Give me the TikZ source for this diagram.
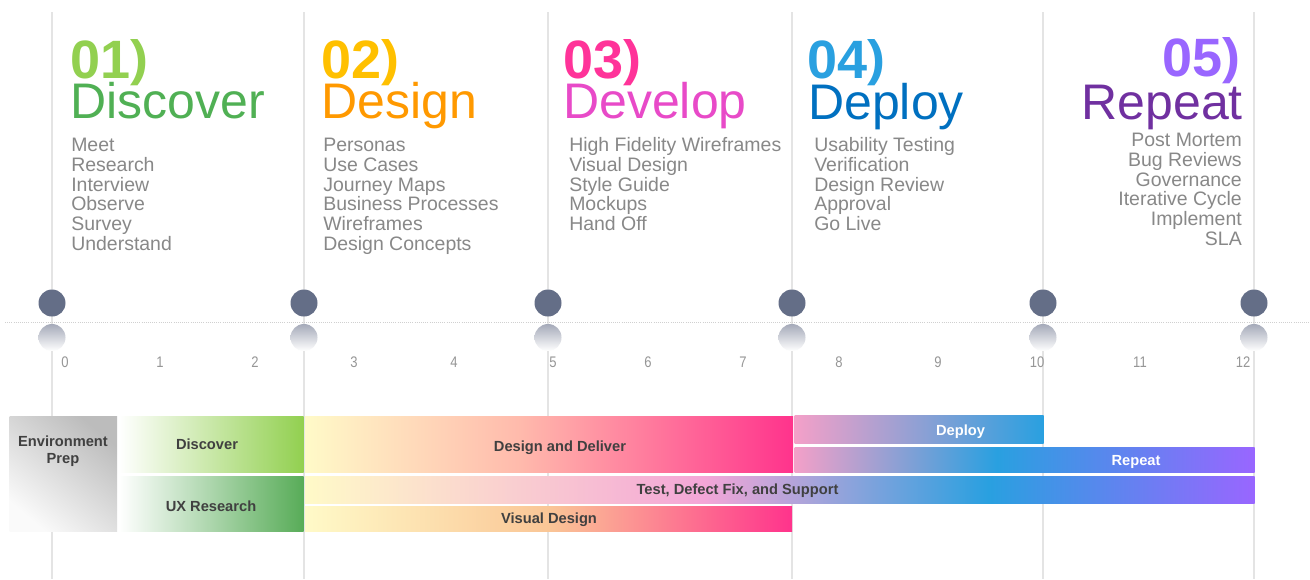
\documentclass[tikz,border=0pt]{standalone}
\usepackage{fontspec}
\setmainfont{Liberation Sans}
\newfontfamily\condfont[FakeStretch=0.85]{Liberation Sans}
\newcommand{\hparen}{\raisebox{2.25pt}{\scalebox{1}[0.92]{)}}}
% header colours
\definecolor{nA}{RGB}{146,208,80}\definecolor{wA}{RGB}{80,176,84}
\definecolor{nB}{RGB}{255,192,0}\definecolor{wB}{RGB}{255,153,0}
\definecolor{nC}{RGB}{255,51,153}\definecolor{wC}{RGB}{232,74,200}
\definecolor{nD}{RGB}{41,160,224}\definecolor{wD}{RGB}{0,112,192}
\definecolor{nE}{RGB}{153,102,255}\definecolor{wE}{RGB}{112,48,160}
\definecolor{itemc}{RGB}{136,136,136}
\definecolor{lineg}{RGB}{228,228,228}
\definecolor{dotc}{RGB}{100,110,135}
\definecolor{reflc}{RGB}{165,170,185}
\definecolor{tickc}{RGB}{150,150,150}
\definecolor{bart}{RGB}{64,64,64}
% bar colours
\definecolor{pyel}{RGB}{255,250,200}
\definecolor{salm}{RGB}{255,186,172}
\definecolor{hpink}{RGB}{255,51,140}
\definecolor{lpink}{RGB}{244,160,200}
\definecolor{tpink}{RGB}{244,166,215}
\definecolor{bblue}{RGB}{41,160,224}
\definecolor{bpurp}{RGB}{153,102,255}
\definecolor{peach}{RGB}{250,198,150}
\definecolor{grnA}{RGB}{146,208,80}
\definecolor{grnB}{RGB}{88,172,88}
\definecolor{envd}{RGB}{188,188,188}
\definecolor{envl}{RGB}{250,250,250}
\pgfdeclarehorizontalshading{shDisc}{100bp}{color(0bp)=(white); color(25bp)=(white); color(75bp)=(grnA); color(100bp)=(grnA)}
\pgfdeclarehorizontalshading{shUX}{100bp}{color(0bp)=(white); color(25bp)=(white); color(75bp)=(grnB); color(100bp)=(grnB)}
\pgfdeclarehorizontalshading{shDD}{100bp}{color(0bp)=(pyel); color(25bp)=(pyel); color(47bp)=(salm); color(75bp)=(hpink); color(100bp)=(hpink)}
\pgfdeclarehorizontalshading{shDep}{100bp}{color(0bp)=(lpink); color(25bp)=(lpink); color(75bp)=(bblue); color(100bp)=(bblue)}
\pgfdeclarehorizontalshading{shRep}{100bp}{color(0bp)=(lpink); color(25bp)=(lpink); color(47bp)=(bblue); color(75bp)=(bpurp); color(100bp)=(bpurp)}
\pgfdeclarehorizontalshading{shTest}{100bp}{color(0bp)=(pyel); color(25bp)=(pyel); color(46bp)=(tpink); color(61bp)=(bblue); color(75bp)=(bpurp); color(100bp)=(bpurp)}
\pgfdeclarehorizontalshading{shVis}{100bp}{color(0bp)=(pyel); color(25bp)=(pyel); color(50bp)=(peach); color(75bp)=(hpink); color(100bp)=(hpink)}
\begin{document}
\begin{tikzpicture}[x=0.75pt,y=-0.75pt,
  vline/.style={draw=lineg,line width=0.8pt},
  dot/.style={circle,fill=dotc,minimum size=20.25pt,inner sep=0},
  refl/.style={circle,top color=reflc,bottom color=white,minimum size=20.25pt,inner sep=0},
  tick/.style={text=tickc,font=\condfont\fontsize{11.5}{12}\selectfont,inner sep=0,anchor=base},
  num/.style={font=\fontsize{40.5}{41}\selectfont\bfseries,inner sep=0},
  word/.style={font=\fontsize{37.5}{38}\selectfont,inner sep=0},
  item/.style={text=itemc,font=\fontsize{14.6}{15}\selectfont,inner sep=0},
  bartext/.style={font=\fontsize{11}{12.8}\selectfont\bfseries,text=bart,inner sep=0,align=center},
  wbartext/.style={font=\fontsize{11}{12.8}\selectfont\bfseries,text=white,inner sep=0},
]
\useasboundingbox[fill=white] (0,0) rectangle (1310,579);
% vertical lines
\foreach \x [count=\i] in {52,304,548,792,1043,1254}
  \draw[vline] (\x,12) -- (\x,579);
% dotted axis
\draw[draw=lineg!80!gray,densely dotted,line width=0.6pt] (5,322) -- (1310,322);
% milestones
\foreach \x [count=\i] in {52,304,548,792,1043,1254}{
  \node[dot] (m\i) at (\x,303) {};
  \node[refl] (r\i) at (\x,337.5) {};
}
% ticks
\foreach \x [count=\i from 0] in {65,160,255,354,454,553,648,743,839,938,1037,1140,1243}
  \node[tick] (t\i) at (\x,367) {\i};
% headers
\node[num,text=nA,anchor=base west] (h1) at (70,78) {01\hparen};
\node[word,text=wA,anchor=base west] (w1) at (70,118.5) {Discover};
\node[num,text=nB,anchor=base west] (h2) at (321,78) {02\hparen};
\node[word,text=wB,anchor=base west] (w2) at (321,118.5) {Design};
\node[num,text=nC,anchor=base west] (h3) at (563,78) {03\hparen};
\node[word,text=wC,anchor=base west] (w3) at (563,118.5) {Develop};
\node[num,text=nD,anchor=base west] (h4) at (807,78) {04\hparen};
\node[word,text=wD,anchor=base west] (w4) at (808,119.5) {Deploy};
\node[num,text=nE,anchor=base east] (h5) at (1241,76) {05\hparen};
\node[word,text=wE,anchor=base east] (w5) at (1243,119.5) {Repeat};
% item lists
\foreach \t [count=\i from 0] in {Meet,Research,Interview,Observe,Survey,Understand}
  \node[item,anchor=base west] (a\i) at (71,151.7+19.66*\i) {\t};
\foreach \t [count=\i from 0] in {Personas,Use Cases,Journey Maps,Business Processes,Wireframes,Design Concepts}
  \node[item,anchor=base west] (b\i) at (323,151.7+19.66*\i) {\t};
\foreach \t [count=\i from 0] in {High Fidelity Wireframes,Visual Design,Style Guide,Mockups,Hand Off}
  \node[item,anchor=base west] (c\i) at (569,151.7+19.66*\i) {\t};
\foreach \t [count=\i from 0] in {Usability Testing,Verification,Design Review,Approval,Go Live}
  \node[item,anchor=base west] (d\i) at (814,151.7+19.66*\i) {\t};
\foreach \t [count=\i from 0] in {Post Mortem,Bug Reviews,Governance,Iterative Cycle,Implement,SLA}
  \node[item,anchor=base east] (e\i) at (1242,146.5+19.75*\i) {\t};
% bars
\shade[top color=envd,bottom color=envl,shading angle=-40] (9.5,416.5) rectangle (117,531.5);
\shade[shading=shDisc] (119,416.5) rectangle (303.5,472.5);
\shade[shading=shUX] (119,476) rectangle (303.5,531.5);
\shade[shading=shDD] (305,416.5) rectangle (793,472.5);
\shade[shading=shDep] (794.5,415.5) rectangle (1043.5,443.5);
\shade[shading=shRep] (794.5,447.5) rectangle (1254.5,472.5);
\shade[shading=shTest] (305,476) rectangle (1254.5,503.5);
\shade[shading=shVis] (305,506) rectangle (792,531.5);
% bar labels
\node[bartext] (lEnv) at (63,451.5) {Environment\\Prep};
\node[bartext] (lDisc) at (207,444) {Discover};
\node[bartext] (lUX) at (211,506) {UX Research};
\node[bartext] (lDD) at (560,447.5) {Design and Deliver};
\node[wbartext] (lDep) at (960.5,431.5) {Deploy};
\node[wbartext] (lRep) at (1136,462) {Repeat};
\node[bartext] (lTest) at (737.5,490.5) {Test, Defect Fix, and Support};
\node[bartext] (lVis) at (549,520) {Visual Design};
\end{tikzpicture}
\end{document}
